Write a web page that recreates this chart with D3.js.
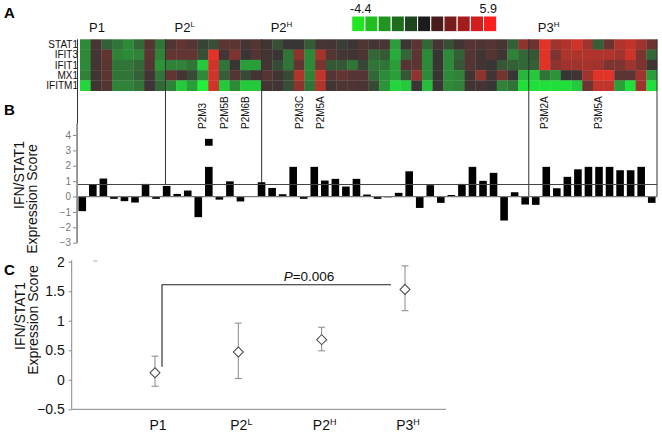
<!DOCTYPE html>
<html><head><meta charset="utf-8">
<script src="https://cdn.jsdelivr.net/npm/d3@7"></script>
<style>body{margin:0;background:#fff;} svg{display:block;font-family:Arial,"Liberation Sans",sans-serif;}</style>
</head><body><svg id="c" width="662" height="432"></svg>
<script>
// ---------- DATA ----------
const genes = ["STAT1","IFIT3","IFIT1","MX1","IFITM1"];
const groupNames = [["P1",""],["P2","L"],["P2","H"],["P3","H"]];
const groupSizes = [8, 9, 25, 12];           // heatmap columns per group
const heatSTAT1 = [-2,0.5,-1,-1.5,-2,-1.2,0.8,-1.5, 0.6,1.2,0.8,-0.3,-0.6,1,1,0.4,0.8,
  0.2,-0.6,0,0,-0.9,0.4,0.3,-0.2,0.1,0.6,0.3,0.5,-2.5,0.1,1,-1.2,0.4,-0.6,0.2,0.8,0.6,0.8,0.4,-1,2.5,
  1.5,5,3,3.5,4.5,3,-1,1.5,3.5,4,3,1.5];
const heatIFIT3 = [-2,0.3,1.2,-1.8,-2,-1.8,1,-1.8, 1.2,1.2,1.2,-0.6,5,0.3,2,0,0.8,
  0.3,0,-1.5,2.5,-2,3.2,0.8,0.3,0.2,0.6,-1.2,-0.9,-2.8,-1.2,1,-2,0,-2,-1,0.8,0.2,0.8,0.2,-1.8,-1.2,
  -0.8,5,2,3.5,3.5,3.5,3.5,3.5,3,4.5,2,-1.2];
const heatIFIT1 = [-2,0.3,1,-1.5,-1.5,-1.2,0.8,-2.2, -1.8,-1.8,-1.5,-3.5,4.5,-1.5,0,-2.5,-2.5,
  0.3,-0.5,-1.5,1.3,-2,1.9,-0.8,-0.8,-1.5,-0.4,-1.5,-1.5,-2.5,0.8,1,-2,0,-2,-0.8,0.8,0.3,0,-0.8,-1,-1.2,
  -1,5,2.5,3,3,3.2,3,2,2,3,2,0.2];
const heatMX1 = [-1.8,0.2,1,-1.5,-1.5,-1,0.3,-1.5, 1.2,0.3,-0.5,-2,4.5,-1,0.8,-0.5,0.2,
  0.8,0.2,-0.5,3.5,-1.8,4,0.8,1.2,0.8,0.8,-1.2,-2,-2.5,-0.8,2.5,-2,0,-2,-1.8,0.2,2.5,0.2,1.8,0,-3,
  -3.5,-1.5,-2.2,0,0.2,3,5,5,1,1,3,-2.5];
const heatIFITM1 = [-3.8,0.2,0.8,-1.8,-1.8,-1.5,0.1,-1.2, -1.8,-3.5,-2.5,-4.4,4.5,-3.5,-2,-3.5,-3.5,
  0.3,0.2,-0.6,2.5,-1.5,3.5,0.2,0.6,0.6,0.5,-0.5,-2.2,-3.8,-3.5,0.1,-3.2,0,-2,-1.8,0.2,0.3,0,-1.8,-1.5,-4,
  -4,-4,-4,-4,-3.5,1.5,4,4,-2.5,-4,3,-4];
const legendMin = -4.4, legendMax = 5.9, legendSteps = 11;

// panel B: IFN/STAT1 expression score per sample slot (null = no bar)
const barValues = [-0.95,0.76,1.17,-0.15,-0.3,-0.39,0.82,-0.15,
  0.69,0.17,0.39,-1.34,1.93,-0.2,0.99,-0.32,null,
  0.93,0.56,0.15,1.93,-0.15,1.93,1.04,1.15,0.65,1.15,0.13,-0.15,-0.05,0.24,1.64,-0.74,0.74,-0.41,0.1,0.82,1.93,1.02,1.54,-1.56,0.28,-0.52,
  -0.54,1.93,0.54,1.28,1.77,1.93,1.93,1.93,1.71,1.71,1.93,-0.41];
const breakSlot = [12], breakRange = [3.3, 3.75];
const threshold = 0.78;
const bTicks = [4,3,2,1,0,-1,-2,-3];
const sampleLabels = ["P2M3","P2M5B","P2M6B","P2M3C","P2M5A","P3M2A","P3M5A"];
const sampleLabelCols = [11,13,15,20,22,43,48];

// panel C
const cCategories = ["P1","P2L","P2H","P3H"];
const cMeans = [0.12,0.47,0.68,1.53];
const cLow  = [-0.11,0.02,0.49,1.17];
const cHigh = [0.40,0.96,0.89,1.93];
const cTicks = [2,1.5,1,0.5,0,-0.5];
const pText = "0.006";
const bracketLevel = 1.61, bracketFoot = 0.22;

// ---------- DRAW ----------
const svg = d3.select("#c");
const heatRows = [heatSTAT1, heatIFIT3, heatIFIT1, heatMX1, heatIFITM1];
const nCols = heatSTAT1.length;
const hx = d3.scaleBand().domain(d3.range(nCols)).range([80, 657]);
const hy = d3.scaleBand().domain(genes).range([39.3, 90.7]);
const heatColor = d3.scaleLinear().domain([legendMin, 0, legendMax])
  .range(["#1ef03c", "#3a3535", "#ff3326"]).clamp(true);
const colX = i => 80 + i * hx.step();

// panel letters
[["A",18],["B",115],["C",275]].forEach(([t,y]) =>
  svg.append("text").attr("x",4).attr("y",y).attr("font-size",15).attr("font-weight","bold").text(t));

// heatmap cells
heatRows.forEach((row, r) => {
  svg.append("g").selectAll("rect").data(row).join("rect")
    .attr("x", (d,i) => hx(i)).attr("y", hy(genes[r]))
    .attr("width", hx.bandwidth() + 0.3).attr("height", hy.bandwidth() + 0.3)
    .attr("fill", d => heatColor(d));
});
svg.append("g").selectAll("text").data(genes).join("text")
  .attr("x", 78).attr("y", d => hy(d) + hy.bandwidth()/2).attr("dy","0.36em")
  .attr("text-anchor","end").attr("font-size",10).attr("fill","#111").text(d => d);

// group labels
const groupStarts = groupSizes.map((s,i) => d3.sum(groupSizes.slice(0,i)));
groupNames.forEach(([m,s],i) => {
  const t = svg.append("text").attr("x", colX(groupStarts[i]) + 9).attr("y", 32)
    .attr("font-size", 13).attr("fill","#111");
  t.append("tspan").text(m);
  if (s) t.append("tspan").attr("font-size",8).attr("dy",-5).text(s);
});

// legend
const legW = 145/legendSteps;
const legScale = d3.scaleLinear().domain([0,(legendSteps-1)/2,legendSteps-1]).range(["#22e622","#1c1c1c","#ff1e1e"]);
svg.append("g").selectAll("rect").data(d3.range(legendSteps)).join("rect")
  .attr("x", d => 351.7 + d*legW).attr("y", 16).attr("width", legW).attr("height", 15.7)
  .attr("fill", d => legScale(d)).attr("stroke","#fff").attr("stroke-width",1);
svg.append("text").attr("x",350).attr("y",12.5).attr("font-size",12.5).attr("fill","#111").text(legendMin);
svg.append("text").attr("x",497).attr("y",12.5).attr("text-anchor","end").attr("font-size",12.5).attr("fill","#111").text(legendMax);

// panel B
const xb = d3.scaleBand().domain(d3.range(barValues.length)).range([77, 657]).paddingInner(0.28).paddingOuter(0.14);
const yB = d3.scaleLinear().domain([-3, 4]).range([242.7, 135]);

// group separator lines
groupStarts.slice(1).forEach((c,i) => {
  const x = colX(c);
  svg.append("line").attr("x1",x).attr("x2",x).attr("y1",39.3)
    .attr("y2", i < 2 ? yB(threshold) : yB(0)).attr("stroke","#333").attr("stroke-width",1);
});
svg.append("line").attr("x1",657).attr("x2",657).attr("y1",39.3).attr("y2",yB(0)).attr("stroke","#333");
svg.append("line").attr("x1",77.5).attr("x2",77.5).attr("y1",39.3).attr("y2",yB(-3)).attr("stroke","#333");

// bars
svg.append("g").selectAll("rect").data(barValues.map((v,i)=>({v,i})).filter(d => d.v !== null)).join("rect")
  .attr("x", d => xb(d.i)).attr("width", xb.bandwidth())
  .attr("y", d => yB(Math.max(0,d.v))).attr("height", d => Math.abs(yB(d.v) - yB(0)))
  .attr("fill","#000");
svg.append("g").selectAll("rect").data(breakSlot).join("rect")
  .attr("x", d => xb(d)).attr("width", xb.bandwidth())
  .attr("y", yB(breakRange[1])).attr("height", yB(breakRange[0]) - yB(breakRange[1])).attr("fill","#000");

// zero & threshold lines
svg.append("line").attr("x1",77).attr("x2",657).attr("y1",yB(0)).attr("y2",yB(0)).attr("stroke","#777").attr("stroke-width",1.2);
svg.append("line").attr("x1",77).attr("x2",657).attr("y1",yB(threshold)).attr("y2",yB(threshold)).attr("stroke","#444").attr("stroke-width",1.1);

// y axis B
const axB = svg.append("g").attr("transform","translate(77,0)")
  .call(d3.axisLeft(yB).tickValues(bTicks).tickSize(4).tickPadding(2).tickFormat(d3.format("d")));
axB.select(".domain").remove();
axB.selectAll("line").attr("stroke","#888");
axB.selectAll("text").attr("font-size",10).attr("fill","#777").attr("font-family","Arial, 'Liberation Sans', sans-serif");
svg.append("line").attr("x1",77).attr("x2",77).attr("y1",yB(4.75)).attr("y2",yB(-3)).attr("stroke","#999").attr("stroke-width",1.8);

// sample labels
svg.append("g").selectAll("text").data(sampleLabels).join("text")
  .attr("transform",(d,i)=>`translate(${hx(sampleLabelCols[i]) + hx.bandwidth()/2 + 3.5},129) rotate(-90)`)
  .attr("font-size",10).attr("fill","#111").text(d => d);

// B axis title
svg.append("text").attr("transform","translate(24,175) rotate(-90)").attr("text-anchor","middle").attr("font-size",14).attr("fill","#111").text("IFN/STAT1");
svg.append("text").attr("transform","translate(37,199) rotate(-90)").attr("text-anchor","middle").attr("font-size",14).attr("fill","#111").text("Expression Score");

// panel C
const xC = d3.scalePoint().domain(cCategories).range([155, 405]);
const yC = d3.scaleLinear().domain([-0.5, 2]).range([409.3, 261.7]);
const axC = svg.append("g").attr("transform","translate(71.7,0)")
  .call(d3.axisLeft(yC).tickValues(cTicks).tickSize(3).tickPadding(4).tickFormat(d3.format("")));
axC.select(".domain").remove();
axC.selectAll("line").attr("stroke","#888");
axC.selectAll("text").attr("font-size",14).attr("fill","#111").attr("font-family","Arial, 'Liberation Sans', sans-serif");
svg.append("line").attr("x1",71.7).attr("x2",71.7).attr("y1",yC(2)-1.5).attr("y2",yC(-0.5)).attr("stroke","#888");
svg.append("line").attr("x1",71.7).attr("x2",446).attr("y1",yC(-0.5)).attr("y2",yC(-0.5)).attr("stroke","#888");
svg.append("line").attr("x1",93.3).attr("x2",97.3).attr("y1",261).attr("y2",261).attr("stroke","#aaa");

// category labels
const catParts = [["P1",""],["P2","L"],["P2","H"],["P3","H"]];
cCategories.forEach((c,i) => {
  const t = svg.append("text").attr("x", xC(c) + 3).attr("y", 430).attr("text-anchor","middle")
    .attr("font-size",14).attr("fill","#111");
  t.append("tspan").text(catParts[i][0]);
  if (catParts[i][1]) t.append("tspan").attr("font-size",9).attr("dy",-5).text(catParts[i][1]);
});

// bracket
const bx1 = xC("P1") + 7, bx2 = xC("P3H") - 14;
svg.append("path").attr("d",`M${bx1},${yC(bracketFoot)}V${yC(bracketLevel)}H${bx2}`)
  .attr("fill","none").attr("stroke","#222").attr("stroke-width",1.1);
const pt = svg.append("text").attr("x", 309).attr("y", yC(bracketLevel) - 3.5).attr("text-anchor","middle")
  .attr("font-size",13.5).attr("fill","#111");
pt.append("tspan").attr("font-style","italic").text("P");
pt.append("tspan").text("=" + pText);

// error bars + diamonds
const gC = svg.append("g");
cCategories.forEach((c,i) => {
  const x = xC(c);
  gC.append("line").attr("x1",x).attr("x2",x).attr("y1",yC(cLow[i])).attr("y2",yC(cHigh[i])).attr("stroke","#888");
  [cLow[i], cHigh[i]].forEach(v => gC.append("line").attr("x1",x-3.5).attr("x2",x+3.5).attr("y1",yC(v)).attr("y2",yC(v)).attr("stroke","#888"));
  gC.append("path").attr("d", d3.symbol().type(d3.symbolSquare).size(50)())
    .attr("transform",`translate(${x},${yC(cMeans[i])}) rotate(45)`)
    .attr("fill","#fff").attr("stroke","#444").attr("stroke-width",1);
});

// C axis title
svg.append("text").attr("transform","translate(25,316) rotate(-90)").attr("text-anchor","middle").attr("font-size",14).attr("fill","#111").text("IFN/STAT1");
svg.append("text").attr("transform","translate(38,320) rotate(-90)").attr("text-anchor","middle").attr("font-size",14).attr("fill","#111").text("Expression Score");
</script></body></html>
